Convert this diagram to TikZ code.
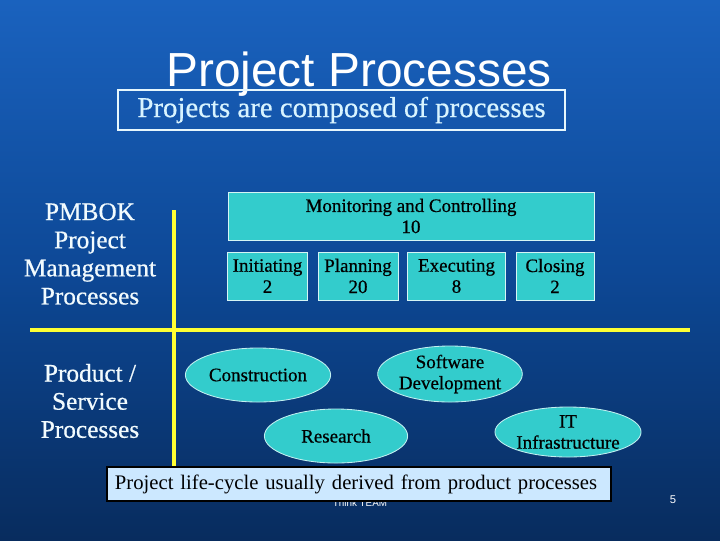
\documentclass[tikz,border=0pt]{standalone}
\usepackage{fontspec}
\setmainfont{Liberation Serif}
\newfontfamily\titlefont{Liberation Sans}
\newfontfamily\heavyfont[FakeBold=0.6]{Liberation Serif}
\usetikzlibrary{shapes.geometric,positioning}

\definecolor{bgtop}{HTML}{1A62BE}
\definecolor{bgmid}{HTML}{0D4896}
\definecolor{bgbot}{HTML}{082C5E}
\definecolor{turq}{HTML}{33CCCC}
\definecolor{paletxt}{HTML}{D8F4FF}
\definecolor{notefill}{HTML}{CCE8FF}
\definecolor{divider}{HTML}{FFFF33}

\tikzstyle{phase} = [draw=white!80!turq, fill=turq, text=black, align=center,
    minimum height=1.2cm, inner sep=1pt,
    font=\heavyfont\fontsize{13.5}{15}\selectfont]
\tikzstyle{product} = [ellipse, draw=white!70!turq, fill=turq, text=black,
    align=center, inner sep=0pt, font=\heavyfont\fontsize{13.5}{15}\selectfont]
\tikzstyle{rowlabel} = [text=white!95!cyan, align=center,
    font=\heavyfont\fontsize{18}{20}\selectfont]

\begin{document}
\begin{tikzpicture}[
            x = 0.025cm, % one reference pixel
            y = -0.025cm,
            semithick
        ]

        % slide background
        \useasboundingbox (0,0) rectangle (720,540);
        \shade[top color=bgtop, bottom color=bgbot, middle color=bgmid]
            (0,0) rectangle (720,540);

        % title and subtitle
        \node[anchor=base, text=white, font=\titlefont\fontsize{34}{38}\selectfont]
            (title) at (359,86) {Project Processes};
        \node[draw=white!90!cyan, line width=1.2pt, text=paletxt,
            minimum width=11.18cm, minimum height=1cm, inner sep=0pt,
            font=\heavyfont\fontsize{20.5}{24}\selectfont]
            (sub) at (341.5,110) {Projects are composed of processes};

        % row labels
        \node[rowlabel] (pmbok) at (90,254) {PMBOK\\Project\\Management\\Processes};
        \node[rowlabel] (prod) at (90,401) {Product /\\Service\\Processes};

        % dividing lines
        \coordinate (vtop) at (174,210);
        \coordinate (vbot) at (174,472);
        \coordinate (hl) at (30,330);
        \coordinate (hr) at (690,330);
        \draw[divider, line width=2.2pt] (vtop) -- (vbot);
        \draw[divider, line width=2.2pt] (hl) -- (hr);

        % project management process groups
        \node[phase, minimum width=9.15cm] (mon) at (411,216) {Monitoring and Controlling\\10};
        \node[phase, minimum width=1.98cm] (init) at (267.5,276) {Initiating\\2};
        \node[phase, minimum width=2.0cm] (plan) at (358,276) {Planning\\20};
        \node[phase, minimum width=2.43cm] (exec) at (456.5,276) {Executing\\8};
        \node[phase, minimum width=1.95cm] (clos) at (555,276) {Closing\\2};

        % product processes
        \node[product, minimum width=3.63cm, minimum height=1.35cm] (constr) at (258,375) {Construction};
        \node[product, minimum width=3.6cm, minimum height=1.4cm] (soft) at (450,374) {Software\\Development};
        \node[product, minimum width=3.58cm, minimum height=1.35cm] (res) at (336,436) {Research};
        \node[product, minimum width=3.5cm, minimum height=1.25cm] (it) at (568,432) {IT\\Infrastructure};

        % footer
        \node[text=white, font=\fontsize{7}{8}\selectfont\titlefont] (team) at (360,503) {Think TEAM};
        \node[text=white, font=\fontsize{8}{9}\selectfont\titlefont] (page) at (673,500) {5};

        % note
        \node[draw=black, line width=1.4pt, fill=notefill, text=black,
            text width=12.2cm, align=left, inner xsep=0.2cm,
            minimum height=0.85cm, inner ysep=0pt,
            font=\fontsize{14.7}{17}\selectfont]
            (note) at (359,484) {Project life-cycle usually derived from product processes};

    \end{tikzpicture}
\end{document}
